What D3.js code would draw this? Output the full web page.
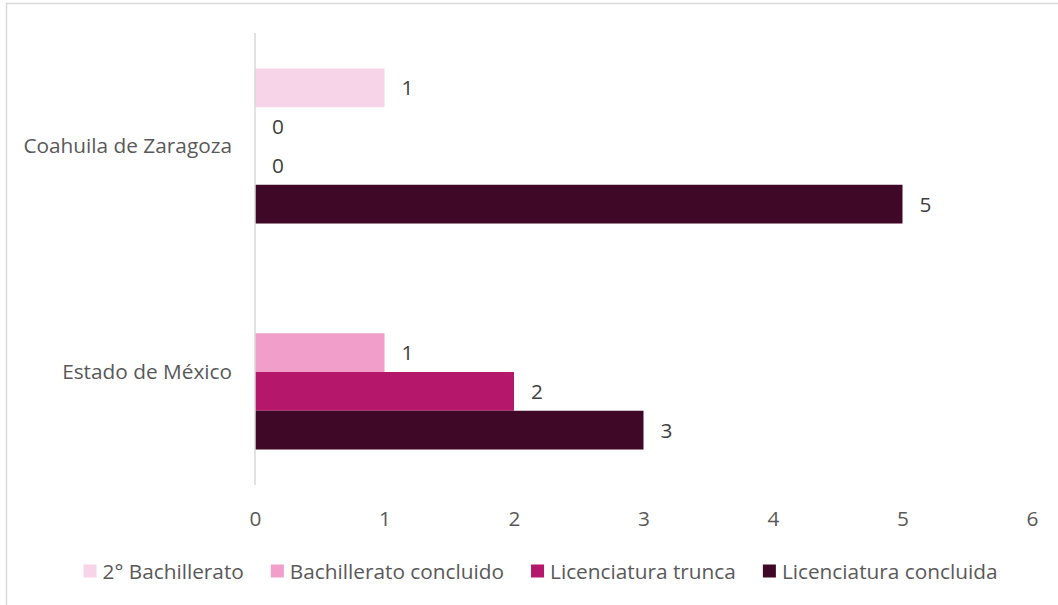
<!DOCTYPE html>
<html>
<head>
<meta charset="utf-8">
<script src="https://cdn.jsdelivr.net/npm/d3@7"></script>
<style>
  html, body { margin: 0; padding: 0; background: #fff; }
  svg { display: block; }
</style>
</head>
<body>
<svg id="chart" width="1058" height="605"></svg>
<script>
const categories = ["Coahuila de Zaragoza", "Estado de México"];
const seriesNames = ["2° Bachillerato", "Bachillerato concluido", "Licenciatura trunca", "Licenciatura concluida"];
const seriesColors = ["#F7D4E8", "#F19ECB", "#B5186B", "#3E0826"];
const bach2 = [1, null];
const bachConcluido = [0, 1];
const licTrunca = [0, 2];
const licConcluida = [5, 3];
const xTicks = [0, 1, 2, 3, 4, 5, 6];

const seriesValues = [bach2, bachConcluido, licTrunca, licConcluida];

const svg = d3.select("#chart");
const font = "'Open Sans', sans-serif";
const fs = 20.8;

// outer frame
svg.append("rect")
  .attr("x", 6.5).attr("y", 3.5)
  .attr("width", 1100).attr("height", 700)
  .attr("fill", "none").attr("stroke", "#d9d9d9").attr("stroke-width", 1.5);

const x = d3.scaleLinear().domain([0, 6]).range([255, 1032]);
const y = d3.scaleBand().domain(categories).range([33, 485])
  .paddingInner(0.314).paddingOuter(0.157);
const ySub = d3.scaleBand().domain(seriesNames).range([0, y.bandwidth()]);

// bars
const data = [];
categories.forEach((c, ci) => {
  seriesNames.forEach((s, si) => {
    data.push({ cat: c, series: s, si, value: seriesValues[si][ci] });
  });
});

const valid = data.filter(d => d.value !== null);

svg.append("g").selectAll("rect")
  .data(valid.filter(d => d.value > 0))
  .join("rect")
  .attr("x", x(0))
  .attr("y", d => y(d.cat) + ySub(d.series))
  .attr("width", d => x(d.value) - x(0))
  .attr("height", ySub.bandwidth())
  .attr("fill", d => seriesColors[d.si]);

// value labels
svg.append("g").selectAll("text")
  .data(valid)
  .join("text")
  .attr("x", d => x(d.value) + 17)
  .attr("y", d => y(d.cat) + ySub(d.series) + ySub.bandwidth() / 2)
  .attr("dy", "0.36em")
  .attr("font-family", font)
  .attr("font-size", fs)
  .attr("fill", "#404040")
  .text(d => d.value);

// y axis line
svg.append("line")
  .attr("x1", x(0)).attr("x2", x(0))
  .attr("y1", 33).attr("y2", 485)
  .attr("stroke", "#d9d9d9").attr("stroke-width", 1.5);

// category labels
svg.append("g").selectAll("text")
  .data(categories)
  .join("text")
  .attr("x", 232)
  .attr("y", d => y(d) + y.bandwidth() / 2)
  .attr("dy", "0.36em")
  .attr("text-anchor", "end")
  .attr("font-family", font)
  .attr("font-size", fs)
  .attr("fill", "#595959")
  .text(d => d);

// x tick labels
const xAxis = d3.axisBottom(x).tickValues(xTicks).tickSize(0).tickPadding(0).tickFormat(d3.format("d"));
const gx = svg.append("g").attr("transform", "translate(0,518)").call(xAxis);
gx.select(".domain").remove();
gx.selectAll("text")
  .attr("dy", "0.36em")
  .attr("font-family", font)
  .attr("font-size", fs)
  .attr("fill", "#595959");

// legend
const legend = svg.append("g");
const items = legend.selectAll("g").data(seriesNames).join("g");
items.append("rect")
  .attr("width", 13).attr("height", 13)
  .attr("y", -6.5)
  .attr("fill", (d, i) => seriesColors[i]);
items.append("text")
  .attr("x", 19)
  .attr("dy", "0.36em")
  .attr("font-family", font)
  .attr("font-size", fs)
  .attr("fill", "#595959")
  .text(d => d);
const widths = [];
items.each(function() { widths.push(19 + this.querySelector("text").getComputedTextLength()); });
const gap = 27;
const total = d3.sum(widths) + gap * (widths.length - 1);
let cx = 540.5 - total / 2;
items.attr("transform", (d, i) => {
  const t = `translate(${cx},571)`;
  cx += widths[i] + gap;
  return t;
});
</script>
</body>
</html>
